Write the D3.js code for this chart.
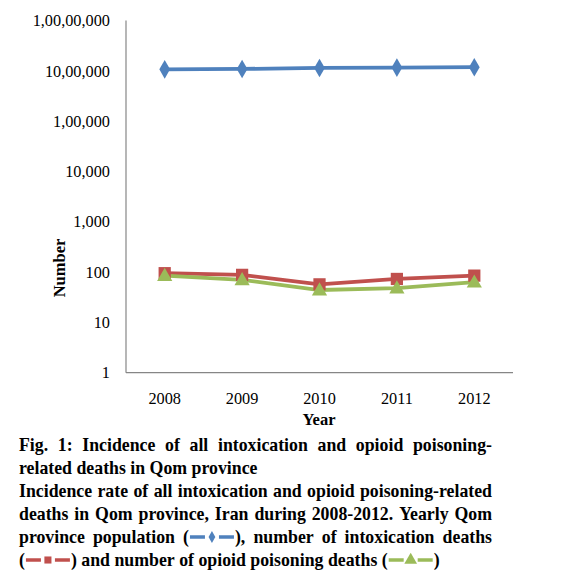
<!DOCTYPE html>
<html><head><meta charset="utf-8">
<script src="https://cdn.jsdelivr.net/npm/d3@7"></script>
<style>body{margin:0;background:#fff}svg{display:block}</style>
</head><body>
<script>
const years = ["2008","2009","2010","2011","2012"];
const population = [1070000, 1090000, 1140000, 1160000, 1180000];
const intoxDeaths = [95, 88, 57, 73, 85];
const opioidDeaths = [85, 70, 44, 48, 63];
const yTickValues = [1,10,100,1000,10000,100000,1000000,10000000];
const yTickLabels = ["1","10","100","1,000","10,000","1,00,000","10,00,000","1,00,00,000"];
const colors = {blue:"#4F81BD", red:"#C0504D", green:"#9BBB59"};

const W=562,H=585;
const svg=d3.select("body").append("svg").attr("width",W).attr("height",H);
const font="'Liberation Serif','Times New Roman',serif";

const x=d3.scaleBand().domain(years).range([126,513]);
const y=d3.scaleLog().domain([1,1e7]).range([372.7,20.5]);

// axes
const gy=svg.append("g").attr("transform","translate(126,0)")
  .call(d3.axisLeft(y).tickValues(yTickValues).tickSize(0).tickPadding(16)
  .tickFormat((d,i)=>yTickLabels[i]));
const gx=svg.append("g").attr("transform","translate(0,372.7)")
  .call(d3.axisBottom(x).tickSize(0).tickPadding(20));
[gy,gx].forEach(g=>{
  g.select(".domain").attr("stroke","#868686").attr("stroke-width",1.2);
  g.selectAll("text").attr("font-family",font).attr("font-size",16.3).attr("fill","#000");
});
gx.select(".domain").attr("d","M126,0H513");
gy.select(".domain").attr("d","M0,20.5V372.7");

svg.append("text").attr("x",319).attr("y",425).attr("text-anchor","middle")
  .attr("font-family",font).attr("font-weight","bold").attr("font-size",16.5).text("Year");
svg.append("text").attr("transform","translate(65,268) rotate(-90)").attr("text-anchor","middle")
  .attr("font-family",font).attr("font-weight","bold").attr("font-size",16.5).text("Number");

const cx=d=>x(d)+x.bandwidth()/2;
const line=d3.line().x(d=>cx(d.yr)).y(d=>y(d.v));
const series=[
  {vals:population,color:colors.blue,sym:d3.symbolDiamond,size:100},
  {vals:intoxDeaths,color:colors.red,sym:d3.symbolSquare,size:150},
  {vals:opioidDeaths,color:colors.green,sym:d3.symbolTriangle,size:100}
];
series.forEach(s=>{
  const pts=years.map((yr,i)=>({yr,v:s.vals[i]}));
  svg.append("path").datum(pts).attr("d",line).attr("fill","none")
    .attr("stroke",s.color).attr("stroke-width",3.8);
});
series.forEach(s=>{
  const pts=years.map((yr,i)=>({yr,v:s.vals[i]}));
  svg.selectAll(null).data(pts).enter().append("path")
    .attr("d",d3.symbol().type(s.sym).size(s.size))
    .attr("transform",d=>`translate(${cx(d.yr)},${y(d.v)+(s.sym===d3.symbolTriangle?1:0)})`)
    .attr("fill",s.color);
});

// caption
const L=19,R=492;
const lines=[
  {just:true, toks:["Fig.","1:","Incidence","of","all","intoxication","and","opioid","poisoning-"]},
  {just:false,toks:["related","deaths","in","Qom","province"]},
  {just:true, toks:["Incidence","rate","of","all","intoxication","and","opioid","poisoning-related"]},
  {just:true, toks:["deaths","in","Qom","province,","Iran","during","2008-2012.","Yearly","Qom"]},
  {just:true, toks:["province","population",["(",{sym:"blue"},"),"],"number","of","intoxication","deaths"]},
  {just:false,toks:[["(",{sym:"red"},")"],"and","number","of","opioid","poisoning","deaths",["(",{sym:"green"},")"]]}
];
const baselines=[451,474,497,520,543,566];
const symW=46;
const symInfo={blue:[colors.blue,d3.symbolDiamond,40],red:[colors.red,d3.symbolSquare,50],green:[colors.green,d3.symbolTriangle,70]};
const cap=svg.append("g").attr("font-family",font).attr("font-weight","bold").attr("font-size",17.8);
function buildToken(g,tok){
  const parts=Array.isArray(tok)?tok:[tok];
  let w=0;
  parts.forEach(p=>{
    if(typeof p==="string"){
      const t=g.append("text").attr("x",w).attr("y",0).text(p);
      w+=t.node().getComputedTextLength();
    } else {
      const [c,sy,sz]=symInfo[p.sym];
      const sg=g.append("g").attr("transform",`translate(${w},-6)`);
      sg.append("line").attr("x1",1).attr("x2",symW/2-7).attr("stroke",c).attr("stroke-width",3.5);
      sg.append("line").attr("x1",symW/2+7).attr("x2",symW-1).attr("stroke",c).attr("stroke-width",3.5);
      sg.append("path").attr("d",d3.symbol().type(sy).size(sz)).attr("transform",`translate(${symW/2},0)`).attr("fill",c);
      w+=symW;
    }
  });
  return w;
}
const spaceW=(()=>{const t=cap.append("text").text("a a");const a=t.node().getComputedTextLength();t.text("aa");const b=t.node().getComputedTextLength();t.remove();return a-b;})();
lines.forEach((ln,li)=>{
  const gs=ln.toks.map(tok=>{const g=cap.append("g");return {g,w:buildToken(g,tok)};});
  const tot=d3.sum(gs,d=>d.w);
  const gap=ln.just?(R-L-tot)/(gs.length-1):spaceW;
  let xp=L;
  gs.forEach(d=>{d.g.attr("transform",`translate(${xp},${baselines[li]})`);xp+=d.w+gap;});
});
</script>
</body></html>
